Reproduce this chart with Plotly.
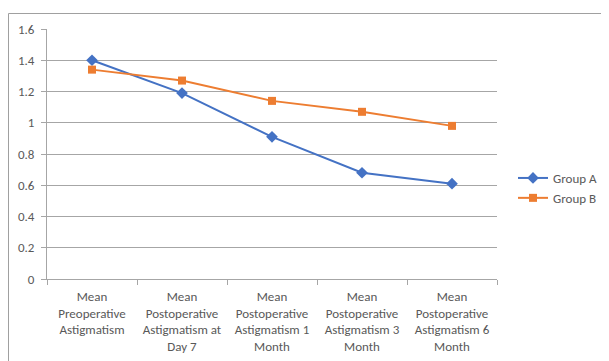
import plotly.graph_objects as go

categories = [
    "Mean<br>Preoperative<br>Astigmatism",
    "Mean<br>Postoperative<br>Astigmatism at<br>Day 7",
    "Mean<br>Postoperative<br>Astigmatism 1<br>Month",
    "Mean<br>Postoperative<br>Astigmatism 3<br>Month",
    "Mean<br>Postoperative<br>Astigmatism 6<br>Month",
]
group_a = [1.40, 1.19, 0.91, 0.68, 0.61]
group_b = [1.34, 1.27, 1.14, 1.07, 0.98]

FONT = "Carlito, Calibri, Lato, sans-serif"
FS = 13
GRAY = "#595959"
LINE = "#A6A6A6"

# the page body has an 8px margin, so figure coords = page coords - 8
OFF = 8
FW, FH = 609 - OFF, 361 - OFF
# plot area in page pixels: x 47..497, y 29..279
PX0, PX1, PY0, PY1 = 47, 497, 29, 279
L, R, T, B = PX0 - OFF, FW - (PX1 - OFF), PY0 - OFF, FH - (PY1 - OFF)
W, H = PX1 - PX0, PY1 - PY0

fig = go.Figure()
fig.add_trace(go.Scatter(
    x=categories, y=group_a, name="Group A", mode="lines+markers",
    line=dict(color="#4472C4", width=2),
    marker=dict(symbol="diamond", size=9, color="#4472C4"),
))
fig.add_trace(go.Scatter(
    x=categories, y=group_b, name="Group B", mode="lines+markers",
    line=dict(color="#ED7D31", width=2),
    marker=dict(symbol="square", size=8, color="#ED7D31"),
))

# white chart box with gray border
fig.add_shape(
    type="rect", xref="paper", yref="paper", layer="below",
    x0=(8.5 - PX0) / W, x1=(620 - PX0) / W,
    y0=(PY1 - 380) / H, y1=(PY1 - 13.5) / H,
    fillcolor="white", line=dict(color="#A0A0A0", width=1),
)

fig.update_layout(
    width=FW, height=FH,
    margin=dict(l=L, r=R, t=T, b=B, autoexpand=False),
    paper_bgcolor="white",
    plot_bgcolor="rgba(0,0,0,0)",
    font=dict(family=FONT, size=FS, color=GRAY),
    showlegend=True,
    legend=dict(
        x=(513 - PX0) / W, xanchor="left",
        y=(PY1 - 188) / H, yanchor="middle",
        bgcolor="rgba(0,0,0,0)",
        font=dict(family=FONT, size=FS, color=GRAY),
        tracegroupgap=2,
    ),
    xaxis=dict(
        type="category", showgrid=False, showline=True, linecolor=LINE,
        linewidth=1, ticks="outside", tickson="boundaries", ticklen=5,
        tickcolor=LINE, tickfont=dict(family=FONT, size=FS, color=GRAY),
        tickangle=0, range=[-0.5, 4.5], fixedrange=True, automargin=False,
        ticklabelstandoff=5,
    ),
    yaxis=dict(
        range=[0, 1.6], dtick=0.2, tick0=0, showgrid=True, gridcolor=LINE,
        gridwidth=1, showline=True, linecolor=LINE, linewidth=1,
        ticks="outside", ticklen=5, tickcolor=LINE, zeroline=False,
        tickfont=dict(family=FONT, size=FS, color=GRAY), ticklabelstandoff=4,
        automargin=False,
    ),
)

fig.write_html("out.html")
